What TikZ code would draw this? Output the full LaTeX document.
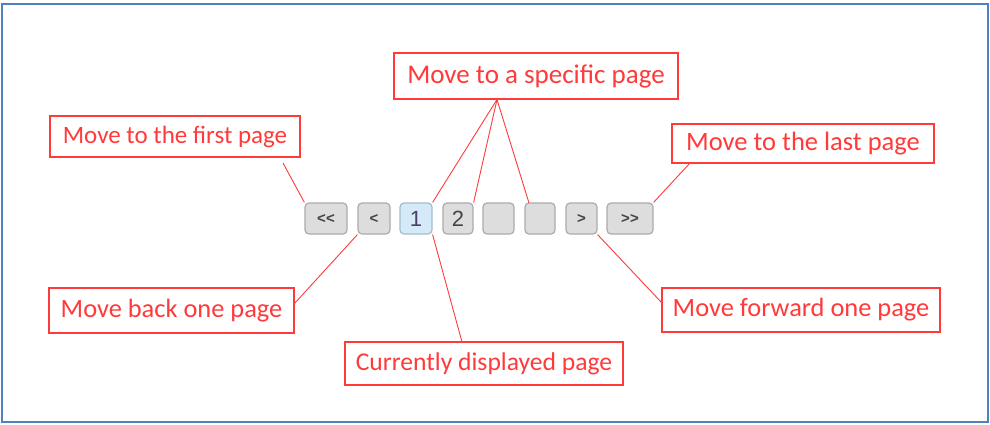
\documentclass[tikz,border=0pt]{standalone}
\usepackage{fontspec}
\setmainfont{Carlito}
\newfontfamily\btnfont{Liberation Sans}
\definecolor{frameblue}{HTML}{4F81BD}
\definecolor{callred}{HTML}{FF3A3A}
\definecolor{btnfill}{HTML}{DDDDDD}
\definecolor{btnline}{HTML}{ABABAB}
\definecolor{curfill}{HTML}{D4EAF8}
\definecolor{curline}{HTML}{A3BDD0}
\definecolor{btntext}{HTML}{444444}
\definecolor{curtext}{HTML}{4A3F6B}
\begin{document}
\begin{tikzpicture}[x=1pt,y=-1pt,
  callout/.style={draw=callred,line width=1.4pt,fill=white,text=callred,inner sep=0pt},
  fs/.style={font=\fontsize{#1}{#1}\selectfont},
  pagebtn/.style={draw=btnline,line width=1.2pt,fill=btnfill,rounded corners=4pt,
    minimum height=31pt,inner sep=0pt,text=btntext},
  chev/.style={font=\btnfont\bfseries\fontsize{15}{16}\selectfont},
  digit/.style={font=\btnfont\fontsize{22}{23}\selectfont},
  link/.style={draw=callred,line width=0.9pt}]
\useasboundingbox (0,0) rectangle (990,424);
\draw[frameblue,line width=2pt] (1.5,3.5) rectangle (988,422);
% buttons
\node[pagebtn,chev,minimum width=42pt] (b1) at (326,218.5) {<<};
\node[pagebtn,chev,minimum width=32pt] (b2) at (374,218.5) {<};
\node[pagebtn,digit,minimum width=32pt,fill=curfill,draw=curline,text=curtext] (b3) at (416,218.5) {1};
\node[pagebtn,digit,minimum width=30pt] (b4) at (458,218.5) {2};
\node[pagebtn,minimum width=31pt] (b5) at (498.5,218.5) {};
\node[pagebtn,minimum width=30pt] (b6) at (540,218.5) {};
\node[pagebtn,chev,minimum width=31pt] (b7) at (581.5,218.5) {>};
\node[pagebtn,chev,minimum width=46pt] (b8) at (630,218.5) {>>};
% callouts
\node[callout,fs=27,minimum width=284pt,minimum height=46pt] (spec) at (536,76) {Move to a specific page};
\node[callout,fs=25,minimum width=250pt,minimum height=41pt] (first) at (175,136.5) {Move to the first page};
\node[callout,fs=26.5,minimum width=262pt,minimum height=39pt] (last) at (803,143.5) {Move to the last page};
\node[callout,fs=26.4,minimum width=245pt,minimum height=45pt] (back) at (171.5,310.5) {Move back one page};
\node[callout,fs=25.6,minimum width=278pt,minimum height=43pt] (curr) at (484,363.5) {Currently displayed page};
\node[callout,fs=26.4,minimum width=278pt,minimum height=44pt] (fwd) at (801,310) {Move forward one page};
% connector ends
\coordinate (firstend) at (283,163);
\coordinate (specend) at (497,99.5);
\coordinate (lastend) at (690,163);
\coordinate (backend) at (294,304);
\coordinate (currend) at (462,342);
\coordinate (fwdend) at (662,303);
\coordinate (b6pt) at (529,203);
% connectors
\draw[link] (firstend) -- (b1.north west);
\draw[link] (specend) -- (b3.north east);
\draw[link] (specend) -- (b4.north east);
\draw[link] (specend) -- (b6pt);
\draw[link] (lastend) -- (b8.north east);
\draw[link] (backend) -- (b2.south west);
\draw[link] (currend) -- (b3.south east);
\draw[link] (fwdend) -- (b7.south east);
\end{tikzpicture}
\end{document}
